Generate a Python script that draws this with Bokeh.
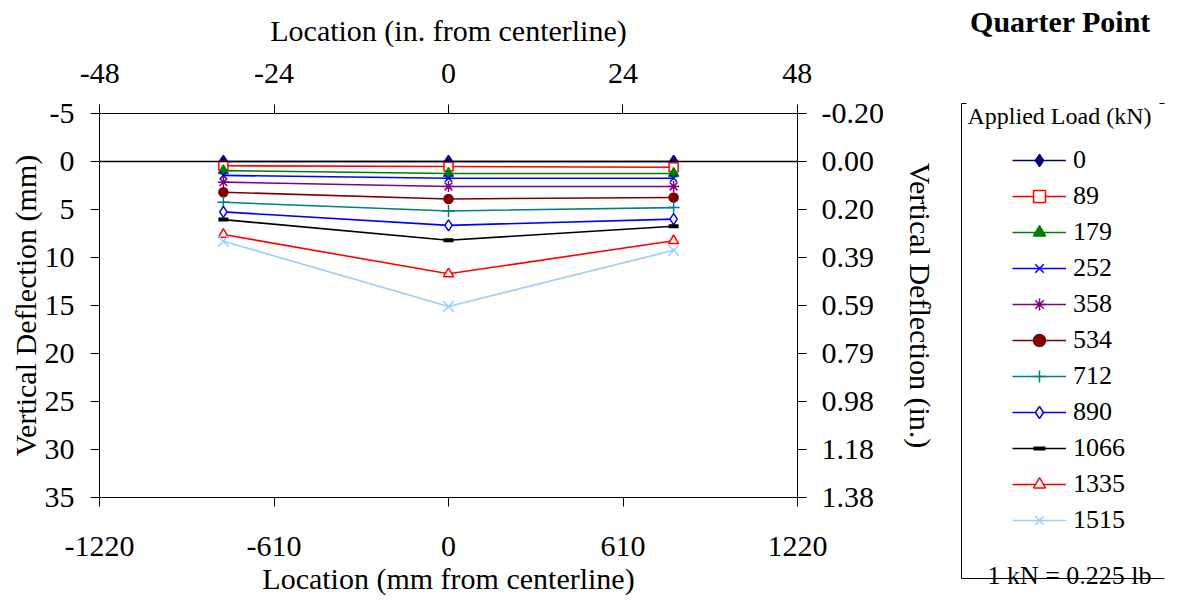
from bokeh.plotting import figure
from bokeh.layouts import row
from bokeh.models import (Range1d, LinearAxis, FixedTicker, Span, Label, Legend,
                          LegendItem, Arrow, PrintfTickFormatter)
from bokeh.embed import file_html
from bokeh.resources import INLINE

# ---------------- data ----------------
location_mm = [-787, 0, 787]
load_labels = ["0", "89", "179", "252", "358", "534", "712", "890", "1066", "1335", "1515"]
defl_0 = [0.0, 0.0, 0.0]
defl_89 = [0.45, 0.52, 0.6]
defl_179 = [0.95, 1.25, 1.25]
defl_252 = [1.45, 1.75, 1.75]
defl_358 = [2.15, 2.6, 2.6]
defl_534 = [3.2, 3.9, 3.75]
defl_712 = [4.25, 5.15, 4.8]
defl_890 = [5.25, 6.65, 6.0]
defl_1066 = [6.05, 8.2, 6.75]
defl_1335 = [7.6, 11.7, 8.25]
defl_1515 = [8.3, 15.1, 9.25]
series = [defl_0, defl_89, defl_179, defl_252, defl_358, defl_534,
          defl_712, defl_890, defl_1066, defl_1335, defl_1515]

x_ticks_mm = [-1220, -610, 0, 610, 1220]
x_ticks_in = [-48, -24, 0, 24, 48]
y_ticks_mm = [-5, 0, 5, 10, 15, 20, 25, 30, 35]

# ---------------- styles ----------------
colors = ["#000080", "#FF0000", "#008000", "#0000FF", "#800080", "#800000",
          "#008080", "#0000FF", "#000000", "#FF0000", "#99CCFF"]
markers = ["diamond", "square", "triangle", "x", "asterisk", "circle",
           "cross", "diamond", "dash", "triangle", "x"]
fills = [True, False, True, False, False, True, False, False, True, False, False]
sizes = [12, 9, 10, 10, 11, 9, 12, 11, 10, 10, 15]

FONT = "Liberation Serif"
H = 598

# ---------------- main chart ----------------
p = figure(width=955, height=H, title=None,
           x_range=Range1d(-1220, 1220), y_range=Range1d(35, -5),
           output_backend="svg", toolbar_location=None,
           min_border_left=99, min_border_right=158,
           min_border_top=113, min_border_bottom=H - 113 - 384)
p.frame_align = False
p.xgrid.grid_line_color = None
p.ygrid.grid_line_color = None
p.outline_line_color = "black"
p.background_fill_color = "white"

p.extra_x_ranges = {"in": Range1d(-1220 / 25.4, 1220 / 25.4)}
p.extra_y_ranges = {"in": Range1d(35 / 25.4, -5 / 25.4)}

xb = p.xaxis[0]
xb.ticker = FixedTicker(ticks=x_ticks_mm)
xb.formatter = PrintfTickFormatter(format="%d")
xb.axis_label = "Location (mm from centerline)"
yl = p.yaxis[0]
yl.ticker = FixedTicker(ticks=y_ticks_mm)
yl.formatter = PrintfTickFormatter(format="%d")
yl.axis_label = "Vertical Deflection (mm)"

xt = LinearAxis(x_range_name="in", ticker=FixedTicker(ticks=x_ticks_in),
                formatter=PrintfTickFormatter(format="%d"),
                axis_label="Location (in. from centerline)")
p.add_layout(xt, "above")
yr = LinearAxis(y_range_name="in",
                ticker=FixedTicker(ticks=[v / 25.4 for v in y_ticks_mm]),
                formatter=PrintfTickFormatter(format="%.2f"),
                axis_label="Vertical Deflection (in.)")
p.add_layout(yr, "right")

for ax in (xb, yl, xt, yr):
    ax.major_tick_out = 9
    ax.major_tick_in = 0
    ax.minor_tick_out = 0
    ax.minor_tick_in = 0
    ax.axis_line_color = "black"
    ax.major_tick_line_color = "black"
    ax.major_label_text_font = FONT
    ax.major_label_text_font_size = "30px"
    ax.major_label_text_color = "black"
    ax.axis_label_text_font = FONT
    ax.axis_label_text_font_size = "30px"
    ax.axis_label_text_font_style = "normal"
    ax.axis_label_text_color = "black"

yl.major_label_standoff = 16
yl.axis_label_standoff = 0
yr.major_label_standoff = 15
yr.axis_label_standoff = 17
xt.major_label_standoff = 22
xt.axis_label_standoff = 14
xb.major_label_standoff = 30
xb.axis_label_standoff = 3

p.add_layout(Span(location=0, dimension="width", line_color="black", line_width=1.5))

for d, c, m, f, s in zip(series, colors, markers, fills, sizes):
    p.line(location_mm, d, line_color=c, line_width=1.6)
    lw = 4 if m == "dash" else 1.5
    p.scatter(location_mm, d, marker=m, size=s, line_color=c,
              fill_color=(c if f else "white"), line_width=lw)

# ---------------- legend panel ----------------
W2 = 220
q = figure(width=W2, height=H, title=None,
           x_range=Range1d(955, 955 + W2), y_range=Range1d(H, 0),
           output_backend="svg", toolbar_location=None,
           min_border=0, x_axis_location=None, y_axis_location=None)
q.frame_align = False
q.xgrid.grid_line_color = None
q.ygrid.grid_line_color = None
q.outline_line_color = None

items = []
for lab, d, c, m, f, s in zip(load_labels, series, colors, markers, fills, sizes):
    lr = q.line(location_mm, d, line_color=c, line_width=1.6, visible=False)
    lw = 4 if m == "dash" else 1.5
    sr = q.scatter(location_mm, d, marker=m, size=s, line_color=c,
                   fill_color=(c if f else "white"), line_width=lw, visible=False)
    items.append(LegendItem(label=lab, renderers=[lr, sr]))

legend = Legend(items=items, location=(1012 - 955, H - 535), orientation="vertical",
                glyph_width=54, glyph_height=30, label_height=30, spacing=6,
                padding=0, margin=0, label_standoff=7,
                label_text_font=FONT, label_text_font_size="26px",
                label_text_color="black",
                border_line_color=None, background_fill_alpha=0)
q.add_layout(legend)

# legend frame: left and bottom edges with short top stubs
for xs, ys, xe, ye in [(961, 103, 961, 578), (961, 578, 1164, 578),
                       (961, 103, 966, 103), (1159, 103, 1164, 103)]:
    q.add_layout(Arrow(end=None, x_start=xs, y_start=ys, x_end=xe, y_end=ye,
                       line_color="black", line_width=1))

q.add_layout(Label(x=1060, y=21, text="Quarter Point", text_font=FONT,
                   text_font_size="30px", text_font_style="bold",
                   text_align="center", text_baseline="middle", text_color="black"))
q.add_layout(Label(x=967, y=115, text="Applied Load (kN)", text_font=FONT,
                   text_font_size="24px", text_align="left",
                   text_baseline="middle", text_color="black"))
q.add_layout(Label(x=1069, y=575, text="1 kN = 0.225 lb", text_font=FONT,
                   text_font_size="26px", text_align="center",
                   text_baseline="alphabetic", text_color="black"))

layout = row(p, q, spacing=0)
open("out.html", "w").write(file_html(layout, INLINE))
